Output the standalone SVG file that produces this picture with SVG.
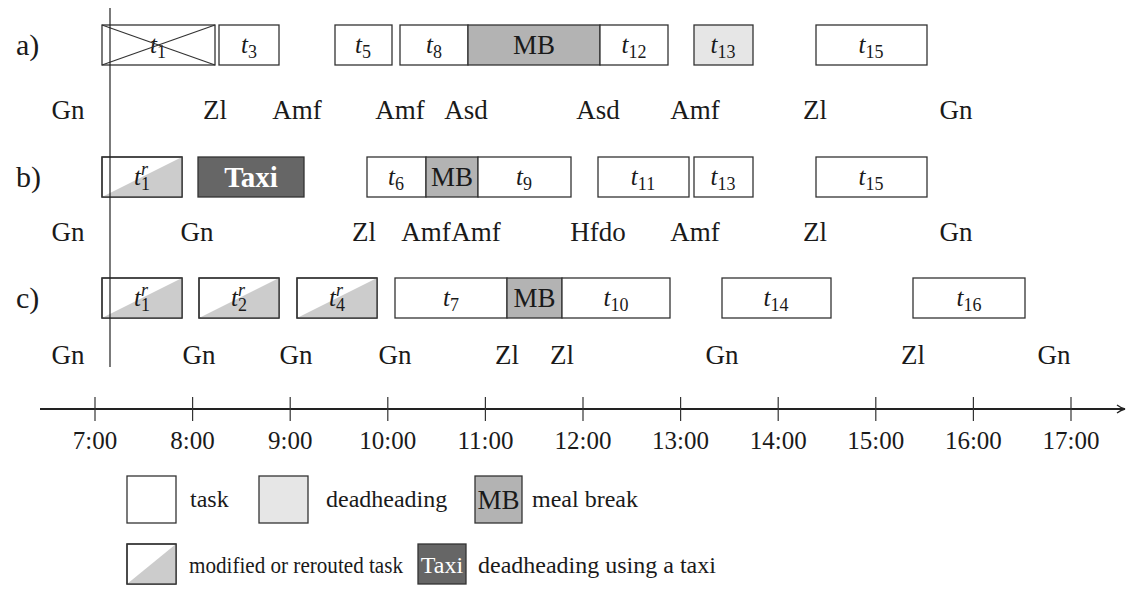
<svg xmlns="http://www.w3.org/2000/svg" width="1130" height="613" viewBox="0 0 1130 613">
  <defs>
    <marker id="arrow" viewBox="0 0 10 10" refX="9" refY="5" markerWidth="10" markerHeight="10" markerUnits="userSpaceOnUse" orient="auto">
      <path d="M1,1 Q5,4 9,5 Q5,6 1,9" fill="none" stroke="#222" stroke-width="1.3"/>
    </marker>
  </defs>
  <style>
    text { font-family: "Liberation Serif", "Times New Roman", serif; font-size: 24px; fill: #1a1a1a; }
    .box { fill: #ffffff; stroke: #333333; stroke-width: 1.3; }
    .dh { fill: #e6e6e6; }
    .mb { fill: #b3b3b3; }
    .taxi { fill: #666666; }
    .tri { fill: #cccccc; stroke: none; }
    .frame { fill: none; stroke: #333333; stroke-width: 1.3; }
    .cross { stroke: #333333; stroke-width: 1.2; }
    .mid { text-anchor: middle; }
    .task { font-size: 25px; }
    .it { font-style: italic; }
    .sub { font-size: 18px; }
    .st { font-size: 27px; }
    .row { font-size: 30px; }
    .mbt { font-size: 27px; }
    .tm { font-size: 25px; }
    .white { fill: #ffffff; }
    .bold { font-weight: bold; font-size: 29px; }
    .axis { stroke: #222222; stroke-width: 2; fill: none; }
    .tick { stroke: #333333; stroke-width: 1.2; }
    .now { stroke: #222222; stroke-width: 1.2; }
  </style>

  <!-- row labels -->
  <g id="row-labels">
    <text class="row" x="16" y="55">a)</text>
    <text class="row" x="16" y="187">b)</text>
    <text class="row" x="16" y="308">c)</text>
  </g>

  <!-- row a: original schedule -->
  <g id="row-a">
    <g id="a-t1">
      <rect class="box" x="102" y="25" width="113" height="40"/>
      <text class="mid task" x="158" y="53"><tspan class="it">t</tspan><tspan class="sub" dy="5">1</tspan></text>
      <line class="cross" x1="102" y1="25" x2="215" y2="65"/>
      <line class="cross" x1="102" y1="65" x2="215" y2="25"/>
    </g>
    <g id="a-t3">
      <rect class="box" x="219" y="25" width="60" height="40"/>
      <text class="mid task" x="249" y="53"><tspan class="it">t</tspan><tspan class="sub" dy="5">3</tspan></text>
    </g>
    <g id="a-t5">
      <rect class="box" x="335" y="25" width="57" height="40"/>
      <text class="mid task" x="363" y="53"><tspan class="it">t</tspan><tspan class="sub" dy="5">5</tspan></text>
    </g>
    <g id="a-t8">
      <rect class="box" x="400" y="25" width="68" height="40"/>
      <text class="mid task" x="434" y="53"><tspan class="it">t</tspan><tspan class="sub" dy="5">8</tspan></text>
    </g>
    <g id="a-mb">
      <rect class="box mb" x="468" y="25" width="132" height="40"/>
      <text class="mid mbt" x="534" y="54">MB</text>
    </g>
    <g id="a-t12">
      <rect class="box" x="600" y="25" width="68" height="40"/>
      <text class="mid task" x="634" y="53"><tspan class="it">t</tspan><tspan class="sub" dy="5">12</tspan></text>
    </g>
    <g id="a-t13">
      <rect class="box dh" x="694" y="25" width="59" height="40"/>
      <text class="mid task" x="723" y="53"><tspan class="it">t</tspan><tspan class="sub" dy="5">13</tspan></text>
    </g>
    <g id="a-t15">
      <rect class="box" x="816" y="25" width="111" height="40"/>
      <text class="mid task" x="871" y="53"><tspan class="it">t</tspan><tspan class="sub" dy="5">15</tspan></text>
    </g>
    <g id="a-stations">
      <text class="mid st" x="68" y="119">Gn</text>
      <text class="mid st" x="215" y="119">Zl</text>
      <text class="mid st" x="297" y="119">Amf</text>
      <text class="mid st" x="400" y="119">Amf</text>
      <text class="mid st" x="466" y="119">Asd</text>
      <text class="mid st" x="598" y="119">Asd</text>
      <text class="mid st" x="695" y="119">Amf</text>
      <text class="mid st" x="815" y="119">Zl</text>
      <text class="mid st" x="956" y="119">Gn</text>
    </g>
  </g>

  <!-- row b -->
  <g id="row-b">
    <g id="b-t1r">
      <rect class="box" x="102" y="157" width="80" height="40"/>
      <polygon class="tri" points="102,197 182,157 182,197"/>
      <rect class="frame" x="102" y="157" width="80" height="40"/>
      <text class="mid task" x="142" y="185"><tspan class="it">t</tspan><tspan class="sub it" dy="-10">r</tspan><tspan class="sub" dx="-7" dy="15">1</tspan></text>
    </g>
    <g id="b-taxi">
      <rect class="box taxi" x="198" y="157" width="106" height="40"/>
      <text class="mid white bold" x="251" y="187">Taxi</text>
    </g>
    <g id="b-t6">
      <rect class="box" x="367" y="157" width="59" height="40"/>
      <text class="mid task" x="396" y="185"><tspan class="it">t</tspan><tspan class="sub" dy="5">6</tspan></text>
    </g>
    <g id="b-mb">
      <rect class="box mb" x="426" y="157" width="52" height="40"/>
      <text class="mid mbt" x="452" y="186">MB</text>
    </g>
    <g id="b-t9">
      <rect class="box" x="478" y="157" width="93" height="40"/>
      <text class="mid task" x="524" y="185"><tspan class="it">t</tspan><tspan class="sub" dy="5">9</tspan></text>
    </g>
    <g id="b-t11">
      <rect class="box" x="598" y="157" width="91" height="40"/>
      <text class="mid task" x="643" y="185"><tspan class="it">t</tspan><tspan class="sub" dy="5">11</tspan></text>
    </g>
    <g id="b-t13">
      <rect class="box" x="694" y="157" width="59" height="40"/>
      <text class="mid task" x="723" y="185"><tspan class="it">t</tspan><tspan class="sub" dy="5">13</tspan></text>
    </g>
    <g id="b-t15">
      <rect class="box" x="816" y="157" width="111" height="40"/>
      <text class="mid task" x="871" y="185"><tspan class="it">t</tspan><tspan class="sub" dy="5">15</tspan></text>
    </g>
    <g id="b-stations">
      <text class="mid st" x="68" y="241">Gn</text>
      <text class="mid st" x="197" y="241">Gn</text>
      <text class="mid st" x="364" y="241">Zl</text>
      <text class="mid st" x="426" y="241">Amf</text>
      <text class="mid st" x="476" y="241">Amf</text>
      <text class="mid st" x="598" y="241">Hfdo</text>
      <text class="mid st" x="695" y="241">Amf</text>
      <text class="mid st" x="815" y="241">Zl</text>
      <text class="mid st" x="956" y="241">Gn</text>
    </g>
  </g>

  <!-- row c -->
  <g id="row-c">
    <g id="c-t1r">
      <rect class="box" x="102" y="278" width="80" height="40"/>
      <polygon class="tri" points="102,318 182,278 182,318"/>
      <rect class="frame" x="102" y="278" width="80" height="40"/>
      <text class="mid task" x="142" y="306"><tspan class="it">t</tspan><tspan class="sub it" dy="-10">r</tspan><tspan class="sub" dx="-7" dy="15">1</tspan></text>
    </g>
    <g id="c-t2r">
      <rect class="box" x="199" y="278" width="80" height="40"/>
      <polygon class="tri" points="199,318 279,278 279,318"/>
      <rect class="frame" x="199" y="278" width="80" height="40"/>
      <text class="mid task" x="239" y="306"><tspan class="it">t</tspan><tspan class="sub it" dy="-10">r</tspan><tspan class="sub" dx="-7" dy="15">2</tspan></text>
    </g>
    <g id="c-t4r">
      <rect class="box" x="297" y="278" width="80" height="40"/>
      <polygon class="tri" points="297,318 377,278 377,318"/>
      <rect class="frame" x="297" y="278" width="80" height="40"/>
      <text class="mid task" x="337" y="306"><tspan class="it">t</tspan><tspan class="sub it" dy="-10">r</tspan><tspan class="sub" dx="-7" dy="15">4</tspan></text>
    </g>
    <g id="c-t7">
      <rect class="box" x="395" y="278" width="112" height="40"/>
      <text class="mid task" x="451" y="306"><tspan class="it">t</tspan><tspan class="sub" dy="5">7</tspan></text>
    </g>
    <g id="c-mb">
      <rect class="box mb" x="507" y="278" width="55" height="40"/>
      <text class="mid mbt" x="534.5" y="307">MB</text>
    </g>
    <g id="c-t10">
      <rect class="box" x="562" y="278" width="108" height="40"/>
      <text class="mid task" x="616" y="306"><tspan class="it">t</tspan><tspan class="sub" dy="5">10</tspan></text>
    </g>
    <g id="c-t14">
      <rect class="box" x="722" y="278" width="109" height="40"/>
      <text class="mid task" x="776" y="306"><tspan class="it">t</tspan><tspan class="sub" dy="5">14</tspan></text>
    </g>
    <g id="c-t16">
      <rect class="box" x="913" y="278" width="112" height="40"/>
      <text class="mid task" x="969" y="306"><tspan class="it">t</tspan><tspan class="sub" dy="5">16</tspan></text>
    </g>
    <g id="c-stations">
      <text class="mid st" x="68" y="364">Gn</text>
      <text class="mid st" x="199" y="364">Gn</text>
      <text class="mid st" x="296" y="364">Gn</text>
      <text class="mid st" x="395" y="364">Gn</text>
      <text class="mid st" x="507" y="364">Zl</text>
      <text class="mid st" x="562" y="364">Zl</text>
      <text class="mid st" x="722" y="364">Gn</text>
      <text class="mid st" x="913" y="364">Zl</text>
      <text class="mid st" x="1054" y="364">Gn</text>
    </g>
  </g>

  <!-- time axis and current-time line -->
  <g id="connectors">
    <line class="now" x1="110" y1="8" x2="110" y2="367"/>
    <line class="axis" x1="40" y1="409" x2="1125" y2="409" marker-end="url(#arrow)"/>
    <g class="tick">
      <line x1="95" y1="397" x2="95" y2="421"/>
      <line x1="192.6" y1="397" x2="192.6" y2="421"/>
      <line x1="290.2" y1="397" x2="290.2" y2="421"/>
      <line x1="387.8" y1="397" x2="387.8" y2="421"/>
      <line x1="485.4" y1="397" x2="485.4" y2="421"/>
      <line x1="583" y1="397" x2="583" y2="421"/>
      <line x1="680.6" y1="397" x2="680.6" y2="421"/>
      <line x1="778.2" y1="397" x2="778.2" y2="421"/>
      <line x1="875.8" y1="397" x2="875.8" y2="421"/>
      <line x1="973.4" y1="397" x2="973.4" y2="421"/>
      <line x1="1071" y1="397" x2="1071" y2="421"/>
    </g>
  </g>
  <g id="axis-labels">
    <text class="mid tm" x="95" y="449">7:00</text>
    <text class="mid tm" x="192.6" y="449">8:00</text>
    <text class="mid tm" x="290.2" y="449">9:00</text>
    <text class="mid tm" x="387.8" y="449">10:00</text>
    <text class="mid tm" x="485.4" y="449">11:00</text>
    <text class="mid tm" x="583" y="449">12:00</text>
    <text class="mid tm" x="680.6" y="449">13:00</text>
    <text class="mid tm" x="778.2" y="449">14:00</text>
    <text class="mid tm" x="875.8" y="449">15:00</text>
    <text class="mid tm" x="973.4" y="449">16:00</text>
    <text class="mid tm" x="1071" y="449">17:00</text>
  </g>

  <!-- legend -->
  <g id="legend">
    <g id="legend-task">
      <rect class="box" x="127" y="476" width="49" height="47"/>
      <text x="190" y="507">task</text>
    </g>
    <g id="legend-deadheading">
      <rect class="box dh" x="259" y="476" width="49" height="47"/>
      <text x="326" y="507">deadheading</text>
    </g>
    <g id="legend-mb">
      <rect class="box mb" x="475" y="476" width="47" height="47"/>
      <text class="mid mbt" x="498.5" y="509">MB</text>
      <text x="532" y="507">meal break</text>
    </g>
    <g id="legend-modified">
      <rect class="box" x="127" y="544" width="49" height="40"/>
      <polygon class="tri" points="127,584 176,544 176,584"/>
      <rect class="frame" x="127" y="544" width="49" height="40"/>
      <text x="189" y="573" textLength="214" lengthAdjust="spacingAndGlyphs">modified or rerouted task</text>
    </g>
    <g id="legend-taxi">
      <rect class="box taxi" x="418" y="544" width="48" height="40"/>
      <text class="mid white" x="442" y="573">Taxi</text>
      <text x="478" y="573">deadheading using a taxi</text>
    </g>
  </g>
</svg>
